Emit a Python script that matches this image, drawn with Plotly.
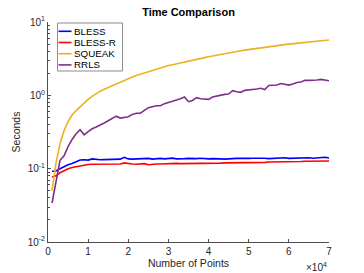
import plotly.graph_objects as go

n_points = [1000 * i for i in range(1, 71)]

bless = [0.092, 0.093, 0.100, 0.107, 0.113, 0.118, 0.124, 0.131, 0.132, 0.131,
         0.136, 0.133, 0.132, 0.133, 0.134, 0.135, 0.134, 0.135, 0.143, 0.136,
         0.135, 0.136, 0.135, 0.136, 0.138, 0.135, 0.137, 0.138, 0.136, 0.137,
         0.139, 0.136, 0.135, 0.137, 0.138, 0.136, 0.137, 0.139, 0.137, 0.136,
         0.137, 0.138, 0.136, 0.135, 0.137, 0.139, 0.138, 0.139, 0.137, 0.138,
         0.139, 0.140, 0.138, 0.139, 0.137, 0.138, 0.140, 0.139, 0.141, 0.138,
         0.139, 0.140, 0.139, 0.140, 0.141, 0.139, 0.140, 0.142, 0.143, 0.140]

bless_r = [0.077, 0.080, 0.088, 0.095, 0.100, 0.104, 0.107, 0.110, 0.112, 0.114,
           0.115, 0.115, 0.114, 0.115, 0.115, 0.115, 0.115, 0.116, 0.120, 0.117,
           0.116, 0.115, 0.116, 0.117, 0.113, 0.115, 0.116, 0.116, 0.117, 0.117,
           0.117, 0.118, 0.117, 0.117, 0.118, 0.118, 0.118, 0.119, 0.118, 0.118,
           0.119, 0.119, 0.119, 0.120, 0.120, 0.120, 0.120, 0.121, 0.121, 0.121,
           0.121, 0.122, 0.122, 0.122, 0.123, 0.123, 0.123, 0.124, 0.124, 0.124,
           0.124, 0.125, 0.125, 0.126, 0.126, 0.127, 0.127, 0.128, 0.128, 0.127]

squeak = [0.05, 0.12, 0.22, 0.33, 0.44, 0.54, 0.62, 0.70, 0.79, 0.88,
          0.97, 1.06, 1.14, 1.21, 1.28, 1.36, 1.44, 1.53, 1.61, 1.70,
          1.78, 1.86, 1.94, 2.02, 2.10, 2.19, 2.28, 2.38, 2.47, 2.55,
          2.62, 2.70, 2.78, 2.86, 2.94, 3.02, 3.10, 3.18, 3.27, 3.35,
          3.44, 3.53, 3.62, 3.71, 3.80, 3.88, 3.97, 4.05, 4.14, 4.22,
          4.30, 4.38, 4.46, 4.54, 4.62, 4.69, 4.76, 4.84, 4.92, 4.99,
          5.06, 5.13, 5.21, 5.28, 5.36, 5.44, 5.52, 5.60, 5.67, 5.68]

rrls = [0.034, 0.070, 0.130, 0.150, 0.200, 0.250, 0.300, 0.340, 0.290, 0.320,
        0.350, 0.370, 0.390, 0.420, 0.450, 0.480, 0.520, 0.490, 0.500, 0.510,
        0.550, 0.570, 0.570, 0.630, 0.680, 0.700, 0.720, 0.720, 0.770, 0.800,
        0.830, 0.870, 0.900, 0.950, 0.820, 0.850, 0.930, 0.900, 0.890, 0.880,
        0.950, 0.980, 1.020, 1.030, 1.040, 1.160, 1.120, 1.100, 1.170, 1.180,
        1.200, 1.220, 1.250, 1.200, 1.360, 1.370, 1.380, 1.450, 1.430, 1.380,
        1.430, 1.500, 1.520, 1.600, 1.600, 1.600, 1.620, 1.650, 1.620, 1.580]

series_names = ["BLESS", "BLESS-R", "SQUEAK", "RRLS"]
series_values = [bless, bless_r, squeak, rrls]
series_colors = ["#0000FF", "#FF0000", "#EDB120", "#7E2F8E"]

x_tick_vals = [0, 10000, 20000, 30000, 40000, 50000, 60000, 70000]
x_tick_text = ["0", "1", "2", "3", "4", "5", "6", "7"]
y_tick_vals = [0.01, 0.1, 1, 10]
y_tick_text = ["10<sup>-2</sup>", "10<sup>-1</sup>", "10<sup>0</sup>", "10<sup>1</sup>"]
y_minor_vals = [m * 10 ** e for e in (-2, -1, 0) for m in range(2, 10)]

FONT = "Liberation Sans, Arial, Helvetica, sans-serif"
AX = "#4d4d4d"

# layout geometry (pixels)
W, H = 364, 273
L, R, T, B = 48, 35, 22, 31
PW, PH = W - L - R, H - T - B


def px(xp):
    return (xp - L) / PW


def py(yp):
    return (H - B - yp) / PH


fig = go.Figure()
for name, vals, col in zip(series_names, series_values, series_colors):
    fig.add_trace(go.Scatter(x=n_points, y=vals, mode="lines", name=name,
                             line=dict(color=col, width=1.6), showlegend=False))

fig.update_layout(
    width=W, height=H,
    margin=dict(l=L, r=R, t=T, b=B),
    paper_bgcolor="white", plot_bgcolor="white",
    font=dict(family=FONT, size=10, color="#262626"),
    title=dict(text="<b>Time Comparison</b>", x=(L + W - R) / 2 / W, xanchor="center",
               y=1 - 12 / H, yanchor="middle", font=dict(size=11, color="black")),
    showlegend=False,
    xaxis=dict(range=[0, 70000], tickvals=x_tick_vals, ticktext=x_tick_text,
               ticks="inside", ticklen=3, tickcolor=AX, showline=True, linecolor=AX,
               linewidth=1, showgrid=False, zeroline=False, mirror=False,
               automargin=False,
               title=dict(text="Number of Points", standoff=2, font=dict(size=10.5))),
    yaxis=dict(type="log", range=[-2, 1], tickvals=y_tick_vals, ticktext=y_tick_text,
               ticks="inside", ticklen=3, tickcolor=AX, showline=True, linecolor=AX,
               linewidth=1, showgrid=False, zeroline=False, mirror=False,
               automargin=False,
               minor=dict(tickvals=y_minor_vals, ticks="inside", ticklen=2,
                          tickcolor=AX, showgrid=False),
               title=dict(text="Seconds", standoff=4, font=dict(size=10.5))),
)

# legend box (drawn as a boxed key)
fig.add_shape(type="rect", xref="paper", yref="paper",
              x0=px(57.5), x1=px(122.5), y0=py(71), y1=py(23),
              line=dict(color="#8c8c8c", width=1), fillcolor="white", layer="above")
for i, (name, col) in enumerate(zip(series_names, series_colors)):
    yc = 31.3 + i * 11.2
    fig.add_shape(type="line", xref="paper", yref="paper",
                  x0=px(58.5), x1=px(71.5), y0=py(yc), y1=py(yc),
                  line=dict(color=col, width=1.6), layer="above")
    fig.add_annotation(text=name, xref="paper", yref="paper",
                       x=px(72), y=py(yc), xanchor="left", yanchor="middle",
                       showarrow=False, font=dict(size=9.8, color="black"))

fig.add_annotation(text="×10<sup>4</sup>", xref="paper", yref="paper",
                   x=1.0, y=-0.075, xanchor="right", yanchor="top",
                   showarrow=False, font=dict(size=10, color="#262626"))

fig.write_html("out.html", config={"displayModeBar": False},
               post_script="document.body.style.margin='0';document.body.style.overflow='hidden';")
